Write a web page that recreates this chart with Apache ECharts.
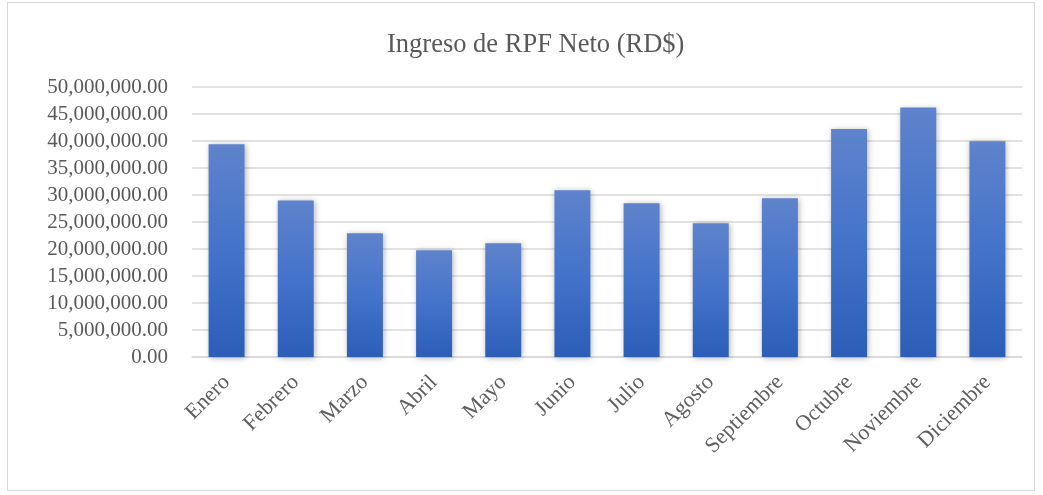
<!DOCTYPE html>
<html>
<head>
<meta charset="utf-8">
<script src="https://cdn.jsdelivr.net/npm/echarts@6/dist/echarts.min.js"></script>
<style>
html,body{margin:0;padding:0;background:#fff;}
#frame{position:absolute;left:7px;top:2px;width:1028px;height:489px;border:1px solid #d9d9d9;box-sizing:border-box;}
#chart{position:absolute;left:0;top:0;width:1043px;height:495px;}
</style>
</head>
<body>
<div id="frame"></div>
<div id="chart"></div>
<script>
const months = ["Enero","Febrero","Marzo","Abril","Mayo","Junio","Julio","Agosto","Septiembre","Octubre","Noviembre","Diciembre"];
const ingresoNeto = [39400000, 29000000, 22900000, 19750000, 21050000, 30900000, 28450000, 24750000, 29400000, 42200000, 46200000, 39950000];
const chartTitle = "Ingreso de RPF Neto (RD$)";

const serif = '"Liberation Serif","Times New Roman",serif';
const chart = echarts.init(document.getElementById('chart'));
chart.setOption({
  animation: false,
  title: {
    text: chartTitle, left: 382, top: 27,
    textStyle: {fontFamily: serif, fontSize: 26.5, fontWeight: 'normal', color: '#595959'}
  },
  grid: {left: 192, right: 21, top: 87, bottom: 138, containLabel: false},
  xAxis: {
    type: 'category', data: months,
    axisLine: {show: true, lineStyle: {color: '#d9d9d9', width: 1.5}},
    axisTick: {show: false},
    axisLabel: {rotate: 45, interval: 0, margin: 22, fontFamily: serif, fontSize: 22, color: '#5f5f5f'}
  },
  yAxis: {
    type: 'value', min: 0, max: 50000000, interval: 5000000,
    axisLine: {show: false}, axisTick: {show: false},
    splitLine: {lineStyle: {color: '#d9d9d9', width: 1.5}},
    axisLabel: {
      margin: 24, fontFamily: serif, fontSize: 21, color: '#595959',
      formatter: v => v.toLocaleString('en-US', {minimumFractionDigits: 2, maximumFractionDigits: 2})
    }
  },
  series: [{
    type: 'bar', data: ingresoNeto, barCategoryGap: '48%',
    itemStyle: {
      color: new echarts.graphic.LinearGradient(0, 0, 0, 1, [
        {offset: 0, color: '#5f83cc'},
        {offset: 0.5, color: '#4373ca'},
        {offset: 1, color: '#2c5eb8'}
      ]),
      shadowBlur: 6, shadowColor: 'rgba(0,0,0,0.3)', shadowOffsetX: 1, shadowOffsetY: 1
    }
  }]
});
</script>
</body>
</html>
